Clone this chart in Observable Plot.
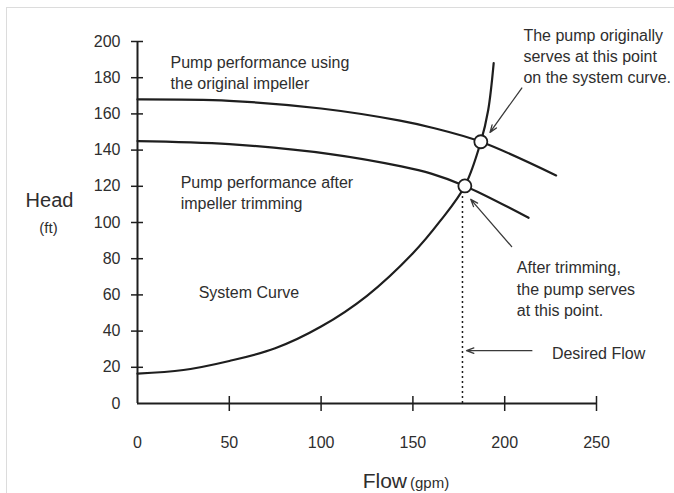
<!DOCTYPE html>
<html>
<head>
<meta charset="utf-8">
<script src="https://cdn.jsdelivr.net/npm/d3@7"></script>
<script src="https://cdn.jsdelivr.net/npm/@observablehq/plot@0.6"></script>
<style>
  html, body { margin: 0; padding: 0; background: #fff; }
  #wrap { position: relative; width: 674px; height: 493px; overflow: hidden; }
  #frame { position: absolute; left: 6px; top: 7px; width: 700px; height: 520px;
           border-left: 1px solid #dcdcdc; border-top: 1px solid #dcdcdc; }
  #chart { position: absolute; left: 0; top: 0; }
</style>
</head>
<body>
<div id="wrap"><div id="frame"></div><div id="chart"></div></div>
<script>
// ---- data ----
const xTicks = [0, 50, 100, 150, 200, 250];
const yTicks = [0, 20, 40, 60, 80, 100, 120, 140, 160, 180, 200];

const originalFlow = [0, 50, 100, 143, 160, 187, 228];
const originalHead = [168, 167.2, 163, 156.3, 152.5, 144.6, 126];

const trimmedFlow = [0, 50, 105, 143.7, 160, 178.3, 213];
const trimmedHead = [145, 143.3, 137.8, 131, 127, 120.2, 102.6];

const systemFlow = [0, 25, 50, 75, 100, 125, 150, 165, 178.3, 187, 191, 194];
const systemHead = [16.5, 18.5, 23.5, 30.5, 42.5, 59.5, 83, 101, 120.2, 144.6, 162, 188];

const operatingFlow = [187, 178.3];
const operatingHead = [144.6, 120.2];

const desiredFlow = 177;
const desiredFlowTop = 116;

const labelTexts = [
  "Pump performance using\nthe original impeller",
  "Pump performance after\nimpeller trimming",
  "System Curve",
  "The pump originally\nserves at this point\non the system curve.",
  "After trimming,\nthe pump serves\nat this point.",
  "Desired Flow"
];
const labelFlow = [18, 23.5, 33.3, 210.2, 206.6, 225.7];
const labelHead = [183.2, 116.9, 61.8, 192.4, 63.9, 28.3];

const arrowFromFlow = [209.3, 203.8, 214.8];
const arrowFromHead = [174.3, 86.7, 29.2];
const arrowToFlow = [192, 181.5, 179.2];
const arrowToHead = [149.8, 112.8, 29.2];

// ---- build tables ----
const zip = (xs, ys) => xs.map((x, i) => ({flow: x, head: ys[i]}));
const original = zip(originalFlow, originalHead);
const trimmed = zip(trimmedFlow, trimmedHead);
const system = zip(systemFlow, systemHead);
const operating = zip(operatingFlow, operatingHead);
const labels = labelTexts.map((t, i) => ({text: t, flow: labelFlow[i], head: labelHead[i]}));
const arrows = arrowFromFlow.map((x, i) => ({x1: x, y1: arrowFromHead[i], x2: arrowToFlow[i], y2: arrowToHead[i]}));

const xDomain = [xTicks[0], xTicks[xTicks.length - 1]];
const yDomain = [yTicks[0], yTicks[yTicks.length - 1]];
const ink = "#1e1e1e";
const textInk = "#2e2e2e";
const font = "'Liberation Sans', Arial, Helvetica, sans-serif";

const chart = Plot.plot({
  width: 674,
  height: 493,
  marginLeft: 137,
  marginRight: 78,
  marginTop: 41,
  marginBottom: 90,
  x: {domain: xDomain},
  y: {domain: yDomain},
  style: {fontFamily: font, fontSize: "16px", color: textInk, background: "transparent", overflow: "visible"},
  marks: [
    // axis lines
    Plot.ruleY([yDomain[0]], {x1: xDomain[0], x2: xDomain[1], stroke: ink, strokeWidth: 2}),
    Plot.ruleX([xDomain[0]], {y1: yDomain[0], y2: yDomain[1], stroke: ink, strokeWidth: 2}),
    // crossing ticks
    Plot.ruleX(xTicks.slice(1), {x: d => d, y1: yDomain[0], y2: yDomain[0], insetTop: -7, insetBottom: -8, stroke: ink, strokeWidth: 1.5}),
    Plot.ruleY(yTicks.slice(1), {y: d => d, x1: xDomain[0], x2: xDomain[0], insetLeft: -6, insetRight: -6, stroke: ink, strokeWidth: 1.5}),
    // tick labels
    Plot.axisX(xTicks, {tickSize: 0, tickPadding: 33, label: null, fontSize: 16, fill: textInk}),
    Plot.axisY(yTicks, {tickSize: 0, tickPadding: 17, label: null, fontSize: 16, fill: textInk}),
    // axis titles
    Plot.text(["Head"], {frameAnchor: "left", dx: -88, dy: -22, fontSize: 20, fill: textInk, textAnchor: "middle"}),
    Plot.text(["(ft)"], {frameAnchor: "left", dx: -89, dy: 6, fontSize: 15, fill: textInk, textAnchor: "middle"}),
    Plot.text(["Flow"], {frameAnchor: "bottom", dx: 40, dy: 84, lineAnchor: "bottom", textAnchor: "end", fontSize: 21, fill: textInk}),
    Plot.text(["(gpm)"], {frameAnchor: "bottom", dx: 43, dy: 84, lineAnchor: "bottom", textAnchor: "start", fontSize: 15, fill: textInk}),
    // desired flow dotted line
    Plot.ruleX([desiredFlow], {x: d => d, y1: yDomain[0], y2: desiredFlowTop, stroke: ink, strokeWidth: 1.5, strokeDasharray: "2,3"}),
    // curves
    Plot.line(original, {x: "flow", y: "head", curve: "catmull-rom", stroke: ink, strokeWidth: 2.2}),
    Plot.line(trimmed, {x: "flow", y: "head", curve: "catmull-rom", stroke: ink, strokeWidth: 2.2}),
    Plot.line(system, {x: "flow", y: "head", curve: "catmull-rom", stroke: ink, strokeWidth: 2.2}),
    // operating points
    Plot.dot(operating, {x: "flow", y: "head", r: 6.5, fill: "white", stroke: ink, strokeWidth: 1.8}),
    // annotation arrows
    Plot.arrow(arrows, {x1: "x1", y1: "y1", x2: "x2", y2: "y2", stroke: "#3a3a3a", strokeWidth: 1.3, headLength: 9, headAngle: 40}),
    // annotation texts
    Plot.text(labels, {x: "flow", y: "head", text: "text", textAnchor: "start", lineAnchor: "middle", lineHeight: 1.33, fontSize: 16, fill: textInk})
  ]
});
document.getElementById("chart").appendChild(chart);
</script>
</body>
</html>
